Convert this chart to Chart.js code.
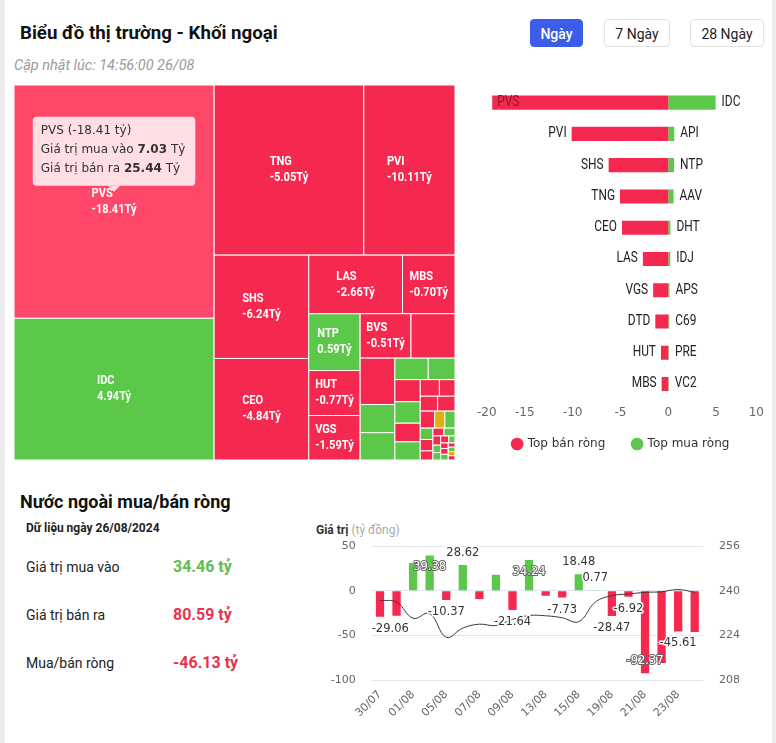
<!DOCTYPE html>
<html lang="vi">
<head>
<meta charset="UTF-8">
<title>Biểu đồ thị trường - Khối ngoại</title>
<script src="https://cdn.jsdelivr.net/npm/chart.js"></script>
<style>
  body { margin: 0; background: #ececec; font-family: Roboto, sans-serif; color: #222; }
  .abs { position: absolute; white-space: nowrap; }
  #card { left: 5px; top: 0; width: 767px; height: 743px; background: #fff; }
  #title { left: 20px; top: 22px; font-size: 18.7px; font-weight: 700; line-height: 22px; color: #111; }
  #updated { left: 14px; top: 58px; font-size: 14.5px; font-style: italic; color: #9a9a9a; line-height: 16px; }
  .btn { top: 19px; height: 28px; line-height: 28px; text-align: center; font-size: 14px; border: 1px solid #e2e2e2;
         border-radius: 4px; box-sizing: border-box; color: #222; background: #fff; }
  .btn.on { background: #3b5de7; border-color: #3b5de7; color: #fff; font-weight: 500; }
  #h2 { left: 20px; top: 491px; font-size: 18px; font-weight: 700; line-height: 22px; color: #111; }
  #asof { left: 26px; top: 520px; font-size: 12px; font-weight: 700; line-height: 16px; }
  .lbl { left: 26px; font-size: 14px; line-height: 20px; color: #222; }
  .val { left: 173px; font-size: 16px; font-weight: 700; line-height: 20px; }
  .up { color: #62bd4f; }
  .down { color: #e8334f; }
  #unit { left: 316px; top: 522px; font-size: 12px; line-height: 16px; }
  #unit b { color: #333; }
  #unit span { color: #aaa; }
  canvas { position: absolute; }
</style>
</head>
<body>
<div id="card" class="abs"></div>
<div id="title" class="abs">Biểu đồ thị trường - Khối ngoại</div>
<div id="updated" class="abs">Cập nhật lúc: 14:56:00 26/08</div>
<div class="abs btn on" style="left:530px;width:53px">Ngày</div>
<div class="abs btn" style="left:604px;width:66px">7 Ngày</div>
<div class="abs btn" style="left:690px;width:74px">28 Ngày</div>

<canvas id="treeChart" width="441" height="375" style="left:14px;top:85px"></canvas>
<canvas id="topChart" width="300" height="380" style="left:470px;top:80px"></canvas>

<div id="h2" class="abs">Nước ngoài mua/bán ròng</div>
<div id="asof" class="abs">Dữ liệu ngày 26/08/2024</div>
<div class="abs lbl" style="top:557px">Giá trị mua vào</div>
<div class="abs val up" style="top:557px" id="buyTotal"></div>
<div class="abs lbl" style="top:605px">Giá trị bán ra</div>
<div class="abs val down" style="top:605px" id="sellTotal"></div>
<div class="abs lbl" style="top:653px">Mua/bán ròng</div>
<div class="abs val down" style="top:653px" id="netTotal"></div>
<div id="unit" class="abs"><b>Giá trị</b> <span>(tỷ đồng)</span></div>
<canvas id="flowChart" width="470" height="233" style="left:300px;top:510px"></canvas>

<script>
// ---- data: treemap (buy / sell by ticker, tỷ đồng) ----
const treeNames = ['PVS','IDC','TNG','PVI','SHS','CEO','LAS','MBS','NTP','HUT','VGS','BVS','DTD',
  'IDV','API','AAV','DHT','IDJ','VCS','PLC','NBC','THD','TIG','L14','SCG','VC3','BCC','DDG','APS','C69',
  'PSD','BAX','PRE','TVD','VC2','HHC','MST','VTZ','PVC','PVB','NRC','HDA','SLS','TAR','KSV','VNR'];
const treeBuy = [7.03, 12.33, 6.33, 0.34, 0.28, 0.92, 0.58, 0.72, 1.31, 0.42, 0.00, 0.53, 0.00,
  0.41, 0.65, 0.61, 0.36, 0.30, 0.05, 0.24, 0.04, 0.22, 0.02, 0.03, 0.02, 0.04, 0.01, 0.06, 0.12, 0.10,
  0.01, 0.00, 0.06, 0.01, 0.04, 0.00, 0.03, 0.00, 0.03, 0.00, 0.01, 0.02, 0.00, 0.02, 0.01, 0.00];
const treeSell = [25.44, 7.39, 11.38, 10.45, 6.52, 5.76, 3.24, 1.42, 0.72, 1.19, 1.59, 1.04, 1.36,
  0.71, 0.03, 0.05, 0.14, 0.10, 0.34, 0.14, 0.29, 0.10, 0.20, 0.15, 0.16, 0.14, 0.16, 0.06, 0.00, 0.00,
  0.09, 0.08, 0.00, 0.05, 0.00, 0.05, 0.01, 0.04, 0.00, 0.03, 0.02, 0.01, 0.02, 0.00, 0.01, 0.02];
const tipName = 'PVS';

// ---- data: top net sellers / buyers ----
const sellNames = ['PVS','PVI','SHS','TNG','CEO','LAS','VGS','DTD','HUT','MBS'];
const sellValues = [-18.41, -10.11, -6.24, -5.05, -4.84, -2.66, -1.59, -1.36, -0.77, -0.70];
const buyNames = ['IDC','API','NTP','AAV','DHT','IDJ','APS','C69','PRE','VC2'];
const buyValues = [4.94, 0.62, 0.59, 0.55, 0.22, 0.20, 0.12, 0.10, 0.06, 0.04];

// ---- data: daily net flow and index ----
const flowDates = ['30/07','31/07','01/08','02/08','05/08','06/08','07/08','08/08','09/08','12/08',
  '13/08','14/08','15/08','16/08','19/08','20/08','21/08','22/08','23/08','26/08'];
const flowValues = [-29.06, -28.0, 31.0, 39.38, -10.37, 28.62, -9.3, 17.9, -21.64, 34.24,
  -5.6, -7.73, 18.48, 0.77, -28.47, -6.92, -92.37, -81.0, -45.61, -46.13];
const indexValues = [236.5, 235.9, 230.1, 231.8, 223.3, 226.6, 228.0, 227.5, 229.7, 231.1,
  231.0, 230.3, 228.9, 235.9, 238.2, 238.8, 239.4, 239.6, 240.4, 239.4];

// ---- day totals ----
const buyTotal = 34.46, sellTotal = 80.59, netTotal = -46.13;

const RED = '#f5284f', RED_HOVER = '#ff4769', GREEN = '#5cc84a', YELLOW = '#e2ae0c';
const NARROW = 0.85;

document.getElementById('buyTotal').textContent = buyTotal.toFixed(2) + ' tỷ';
document.getElementById('sellTotal').textContent = sellTotal.toFixed(2) + ' tỷ';
document.getElementById('netTotal').textContent = netTotal.toFixed(2) + ' tỷ';

function narrowText(ctx, text, x, y, sx) {
  ctx.save();
  ctx.translate(x, y);
  ctx.scale(sx, 1);
  ctx.fillText(text, 0, 0);
  ctx.restore();
}

// squarified treemap, areas in pixels
function worst(row, sum, side) {
  let m = 0;
  row.forEach(c => {
    const r = Math.max(side * side * c.a / (sum * sum), (sum * sum) / (side * side * c.a));
    if (r > m) m = r;
  });
  return m;
}
function squarify(items, x, y, w, h) {
  const total = items.reduce((s, d) => s + d.size, 0);
  let rest = items.map(d => ({ d, a: d.size * w * h / total }));
  const out = [];
  while (rest.length) {
    const vertical = w * 1.35 >= h;   // strips go down the left side unless clearly taller than wide
    const side = vertical ? h : w;
    const row = [rest[0]];
    let sum = rest[0].a, best = worst(row, sum, side);
    for (let i = 1; i < rest.length; i++) {
      const r = worst(row.concat(rest[i]), sum + rest[i].a, side);
      if (r > best) break;
      row.push(rest[i]); sum += rest[i].a; best = r;
    }
    rest = rest.slice(row.length);
    const thick = sum / side;
    let pos = vertical ? y : x;
    row.forEach(c => {
      const len = c.a / thick;
      out.push(vertical ? { d: c.d, x, y: pos, w: thick, h: len } : { d: c.d, x: pos, y, w: len, h: thick });
      pos += len;
    });
    if (vertical) { x += thick; w -= thick; } else { y += thick; h -= thick; }
  }
  return out;
}

const treemapPlugin = {
  id: 'treemap',
  afterDatasetsDraw(chart) {
    const { ctx, scales: { x, y } } = chart;
    const left = x.getPixelForValue(0), right = x.getPixelForValue(1);
    const top = y.getPixelForValue(1), bottom = y.getPixelForValue(0);
    const items = treeNames.map((name, i) => ({
      name, buy: treeBuy[i], sell: treeSell[i], net: treeBuy[i] - treeSell[i], size: treeBuy[i] + treeSell[i]
    })).sort((a, b) => b.size - a.size);
    const cells = squarify(items, left, top, right - left, bottom - top);

    ctx.save();
    cells.forEach(c => {
      const n = c.d.net;
      ctx.fillStyle = n > 0.005 ? GREEN : n < -0.005 ? (c.d.name === tipName ? RED_HOVER : RED) : YELLOW;
      ctx.fillRect(c.x, c.y, c.w, c.h);
      ctx.strokeStyle = '#fff';
      ctx.lineWidth = 1;
      ctx.strokeRect(c.x, c.y, c.w, c.h);
    });
    ctx.font = 'bold 13px Roboto';
    ctx.fillStyle = '#fff';
    ctx.textAlign = 'left';
    ctx.textBaseline = 'middle';
    cells.forEach(c => {
      const l1 = c.d.name, l2 = c.d.net.toFixed(2) + 'Tỷ';
      const tw = Math.max(ctx.measureText(l1).width, ctx.measureText(l2).width) * NARROW;
      if (tw + 8 > c.w || c.h < 36) return;
      const lx = c.x + c.w / 2 - tw / 2, cy = c.y + c.h / 2;
      narrowText(ctx, l1, lx, cy - 8, NARROW);
      narrowText(ctx, l2, lx, cy + 8, NARROW);
    });

    // tooltip on hovered cell
    const act = cells.find(c => c.d.name === tipName);
    if (act) {
      const d = act.d;
      const lines = [
        [[`${d.name} (${d.net.toFixed(2)} tỷ)`, false]],
        [['Giá trị mua vào ', false], [d.buy.toFixed(2), true], [' Tỷ', false]],
        [['Giá trị bán ra ', false], [d.sell.toFixed(2), true], [' Tỷ', false]]
      ];
      const fontN = '12px "DejaVu Sans"', fontB = 'bold 12px "DejaVu Sans"';
      const widths = lines.map(l => l.reduce((s, [t, b]) => { ctx.font = b ? fontB : fontN; return s + ctx.measureText(t).width; }, 0));
      const bw = Math.max(...widths) + 18, bh = 69;
      const ax = act.x + act.w / 2, ay = act.y + act.h / 2 - 10;
      const bx = ax - bw / 2, by = ay - 6 - bh;
      ctx.fillStyle = 'rgba(255,255,255,0.82)';
      ctx.beginPath();
      ctx.roundRect(bx, by, bw, bh, 4);
      ctx.fill();
      ctx.beginPath();
      ctx.moveTo(ax - 6, by + bh);
      ctx.lineTo(ax + 6, by + bh);
      ctx.lineTo(ax, ay);
      ctx.closePath();
      ctx.fill();
      ctx.fillStyle = '#333';
      lines.forEach((l, i) => {
        let tx = bx + 8;
        l.forEach(([t, b]) => {
          ctx.font = b ? fontB : fontN;
          ctx.fillText(t, tx, by + 14 + i * 19);
          tx += ctx.measureText(t).width;
        });
      });
    }
    ctx.restore();
  }
};

new Chart(document.getElementById('treeChart'), {
  type: 'scatter',
  data: { datasets: [{ data: [] }] },
  options: {
    responsive: false,
    animation: false,
    layout: { padding: 0 },
    scales: {
      x: { type: 'linear', min: 0, max: 1, display: false },
      y: { type: 'linear', min: 0, max: 1, display: false }
    },
    plugins: { legend: { display: false }, tooltip: { enabled: false } }
  },
  plugins: [treemapPlugin]
});

// names next to the top seller / buyer bars
const barNamesPlugin = {
  id: 'barNames',
  afterDatasetsDraw(chart) {
    const { ctx, chartArea } = chart;
    ctx.save();
    ctx.font = '14px Roboto';
    ctx.textBaseline = 'middle';
    chart.getDatasetMeta(0).data.forEach((el, i) => {
      const t = sellNames[i];
      const w = ctx.measureText(t).width * NARROW;
      if (el.x - 5 - w < chartArea.left) {
        ctx.fillStyle = '#8c1830';
        ctx.textAlign = 'left';
        narrowText(ctx, t, el.x + 5, el.y, NARROW);
      } else {
        ctx.fillStyle = '#222';
        ctx.textAlign = 'right';
        narrowText(ctx, t, el.x - 5, el.y, NARROW);
      }
    });
    ctx.fillStyle = '#222';
    ctx.textAlign = 'left';
    chart.getDatasetMeta(1).data.forEach((el, i) => {
      narrowText(ctx, buyNames[i], el.x + 6, el.y, NARROW);
    });
    ctx.restore();
  }
};

new Chart(document.getElementById('topChart'), {
  type: 'bar',
  data: {
    labels: sellNames,
    datasets: [
      { label: 'Top bán ròng', data: sellValues, backgroundColor: RED },
      { label: 'Top mua ròng', data: buyValues, backgroundColor: GREEN }
    ]
  },
  options: {
    indexAxis: 'y',
    responsive: false,
    animation: false,
    layout: { padding: { left: 7, right: 5, top: 7, bottom: 0 } },
    datasets: { bar: { categoryPercentage: 1, barPercentage: 0.45 } },
    scales: {
      x: {
        stacked: true, min: -20, max: 10,
        ticks: { stepSize: 5, align: 'inner', padding: 6, color: '#666', font: { family: 'DejaVu Sans', size: 12 } },
        grid: { display: false, drawTicks: false },
        border: { display: false }
      },
      y: { stacked: true, display: false }
    },
    plugins: {
      legend: {
        position: 'bottom',
        labels: {
          usePointStyle: true, pointStyle: 'circle', boxWidth: 9, boxHeight: 9, padding: 12,
          color: '#333', font: { family: 'DejaVu Sans', size: 12 },
          // a little extra room between the two legend entries
          generateLabels: chart => Chart.defaults.plugins.legend.labels.generateLabels(chart)
            .map((l, i) => i === 0 ? { ...l, text: l.text + '    ' } : l)
        }
      },
      tooltip: { enabled: false }
    }
  },
  plugins: [barNamesPlugin]
});

// value labels on the daily bars, hiding ones that collide
const flowLabelsPlugin = {
  id: 'flowLabels',
  afterDatasetsDraw(chart) {
    const { ctx, chartArea: area } = chart;
    const meta = chart.getDatasetMeta(1);
    ctx.save();
    ctx.font = '11.5px "DejaVu Sans"';
    const cands = meta.data.map((el, i) => {
      const v = flowValues[i];
      const text = v.toFixed(2);
      const w = ctx.measureText(text).width, h = 13;
      let cy = v >= 0 ? el.y - 12 : el.y + 12, inside = false;
      if (cy - h / 2 < area.top || cy + h / 2 > area.bottom) {
        cy = v >= 0 ? el.y + 12 : el.y - 12;
        inside = true;
      }
      const cx = Math.min(Math.max(el.x, area.left + w / 2), area.right - w / 2);
      return { text, cx, cy, w, h, inside, pri: Math.floor(Math.abs(el.base - el.y) / 2) };
    });
    const shown = [];
    cands.slice().sort((a, b) => b.pri - a.pri).forEach(c => {
      const hit = shown.some(s => Math.abs(s.cx - c.cx) < (s.w + c.w) / 2 + 4 && Math.abs(s.cy - c.cy) < (s.h + c.h) / 2 + 1);
      if (!hit) shown.push(c);
    });
    ctx.textAlign = 'center';
    ctx.textBaseline = 'middle';
    ctx.lineJoin = 'round';
    shown.forEach(c => {
      if (c.inside) {
        ctx.lineWidth = 2; ctx.strokeStyle = '#666'; ctx.fillStyle = '#fff';
      } else {
        ctx.lineWidth = 3; ctx.strokeStyle = '#fff'; ctx.fillStyle = '#333';
      }
      ctx.strokeText(c.text, c.cx, c.cy);
      ctx.fillText(c.text, c.cx, c.cy);
    });
    ctx.restore();
  }
};

const axisFont = { family: 'DejaVu Sans', size: 11 };
new Chart(document.getElementById('flowChart'), {
  data: {
    labels: flowDates,
    datasets: [
      { type: 'line', data: indexValues, yAxisID: 'y1', borderColor: '#3a3a3a', borderWidth: 1,
        pointRadius: 0, tension: 0.4, order: 0 },
      { type: 'bar', data: flowValues, yAxisID: 'y', order: 1,
        backgroundColor: flowValues.map(v => v >= 0 ? GREEN : RED),
        categoryPercentage: 1, barPercentage: 0.5 }
    ]
  },
  options: {
    responsive: false,
    animation: false,
    layout: { padding: { top: 36, left: 0, right: 0, bottom: 0 } },
    scales: {
      x: {
        grid: { display: false, drawTicks: false },
        border: { display: false },
        ticks: {
          autoSkip: false, minRotation: 45, maxRotation: 45, padding: 8, color: '#666', font: axisFont,
          callback: (v, i) => i % 2 ? '' : flowDates[i]
        },
        afterFit: s => { s.height = 63; }
      },
      y: {
        position: 'left', min: -100, max: 50,
        ticks: { stepSize: 50, padding: 16, color: '#666', font: axisFont },
        grid: { color: '#e0e6f1', drawTicks: false },
        border: { display: false },
        afterFit: s => { s.width = 71.7; }
      },
      y1: {
        position: 'right', min: 208, max: 256,
        ticks: { stepSize: 16, padding: 16, color: '#666', font: axisFont },
        grid: { display: false, drawTicks: false },
        border: { display: false },
        afterFit: s => { s.width = 67; }
      }
    },
    plugins: { legend: { display: false }, tooltip: { enabled: false } }
  },
  plugins: [flowLabelsPlugin]
});
</script>
</body>
</html>
